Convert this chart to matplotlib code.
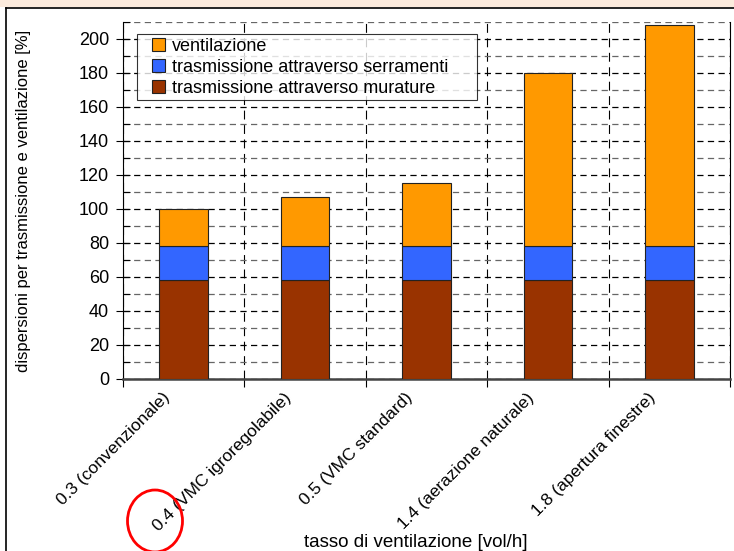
import numpy as np
import matplotlib.pyplot as plt
from matplotlib.lines import Line2D
from matplotlib.patches import Ellipse, Rectangle
from matplotlib.legend_handler import HandlerPatch
from matplotlib.transforms import ScaledTranslation
from matplotlib.ticker import MultipleLocator, FixedLocator, NullFormatter

plt.rcParams['font.family'] = ['Liberation Sans', 'DejaVu Sans']

# dati: dispersioni in % rispetto al caso convenzionale
categorie = ['0.3 (convenzionale)', '0.4 (VMC igroregolabile)', '0.5 (VMC standard)',
             '1.4 (aerazione naturale)', '1.8 (apertura finestre)']
murature = [58, 58, 58, 58, 58]
serramenti = [20, 20, 20, 20, 20]
ventilazione = [22, 29, 37, 102, 130]

fig = plt.figure(figsize=(7.34, 5.51), dpi=100)
ax = fig.add_axes([0.1676, 0.3122, 0.8270, 0.6479])

x = np.arange(len(categorie))
w = 0.4
base2 = np.array(murature) + np.array(serramenti)
b1 = ax.bar(x, murature, w, color='#993300', edgecolor='#222222', linewidth=0.8, zorder=3,
            label='trasmissione attraverso murature')
b2 = ax.bar(x, serramenti, w, bottom=murature, color='#3366FF', edgecolor='#222222',
            linewidth=0.8, zorder=3, label='trasmissione attraverso serramenti')
b3 = ax.bar(x, ventilazione, w, bottom=base2, color='#FF9900', edgecolor='#222222',
            linewidth=0.8, zorder=3, label='ventilazione')

ax.set_xlim(-0.5, len(categorie) - 0.5)
ax.set_ylim(0, 210)

# asse y: principali ogni 20, secondarie ogni 10
ax.yaxis.set_major_locator(MultipleLocator(20))
ax.yaxis.set_minor_locator(MultipleLocator(10))
ax.tick_params(axis='y', which='major', direction='inout', length=10, width=0.8,
               labelsize=13, pad=5)
ax.tick_params(axis='y', which='minor', direction='in', length=5, width=0.8)

# asse x: tacche ai confini, etichette al centro delle categorie
ax.xaxis.set_major_locator(FixedLocator(np.arange(len(categorie) + 1) - 0.5))
ax.xaxis.set_major_formatter(NullFormatter())
ax.xaxis.set_minor_locator(FixedLocator(x))
ax.set_xticklabels(categorie, minor=True, rotation=45, ha='right',
                   rotation_mode='anchor', fontsize=12.5)
ax.tick_params(axis='x', which='major', direction='out', length=6, width=0.8)
ax.tick_params(axis='x', which='minor', length=0, pad=8)
sposta = ScaledTranslation(-0.22, 0, fig.dpi_scale_trans)
for lab in ax.get_xticklabels(minor=True):
    lab.set_transform(lab.get_transform() + sposta)

# griglia tratteggiata
ax.grid(axis='y', which='major', color='black', linestyle=(0, (5, 3.5)), linewidth=0.9, zorder=0)
ax.grid(axis='y', which='minor', color='#666666', linestyle=(0, (5, 3.5)), linewidth=0.9, zorder=0)
ax.grid(axis='x', which='major', color='black', linestyle=(0, (8, 5)), linewidth=0.8, zorder=0)
ax.set_axisbelow(True)

ax.spines['top'].set_visible(False)
ax.spines['left'].set_color('black')
ax.spines['right'].set_color('black')
ax.spines['bottom'].set_color('#444444')
ax.spines['bottom'].set_linewidth(1.8)

ax.set_ylabel('dispersioni per trasmissione e ventilazione [%]', fontsize=12)
ax.yaxis.set_label_coords(-0.152, 0.5)
ax.set_xlabel('tasso di ventilazione [vol/h]', fontsize=13.5)
ax.xaxis.set_label_coords(0.482, -0.433)


# quadratino della legenda allineato a destra nello spazio del simbolo
def quadrato(legend, orig_handle, xdescent, ydescent, width, height, fontsize):
    s = 9.0
    return Rectangle((-xdescent + width - s, -ydescent + (height - s) / 2), s, s)


simboli = [b3.patches[0], b2.patches[0], b1.patches[0]]
leg = ax.legend(simboli, [b3.get_label(), b2.get_label(), b1.get_label()], loc='upper left',
                bbox_to_anchor=(0.023, 0.766, 0.560, 0.2), mode='expand',
                fontsize=13, frameon=True, fancybox=False, borderpad=0.2,
                handlelength=1.35, handleheight=0.7, handletextpad=0.4,
                labelspacing=0.22, borderaxespad=0,
                handler_map={Rectangle: HandlerPatch(patch_func=quadrato)})
leg.get_frame().set_edgecolor('black')
leg.get_frame().set_linewidth(0.8)
for h in leg.legend_handles:
    h.set_edgecolor('#222222')
    h.set_linewidth(0.8)

# cornice della pagina e fascia superiore
fig.patches.append(Rectangle((0, 1 - 7 / 551), 1, 7 / 551, transform=fig.transFigure,
                             facecolor='#FCEBDD', edgecolor='none', zorder=0))
fig.add_artist(Line2D([6 / 734, 1], [1 - 8 / 551, 1 - 8 / 551], color='black', linewidth=1.2))
fig.add_artist(Line2D([6 / 734, 6 / 734], [0, 1 - 8 / 551], color='black', linewidth=1.2))

# evidenziazione in rosso
fig.add_artist(Ellipse((155 / 734, 1 - 521 / 551), 55 / 734, 62 / 551,
                       transform=fig.transFigure, fill=False, edgecolor='red', linewidth=2))

fig.savefig('out.png', dpi=100)
